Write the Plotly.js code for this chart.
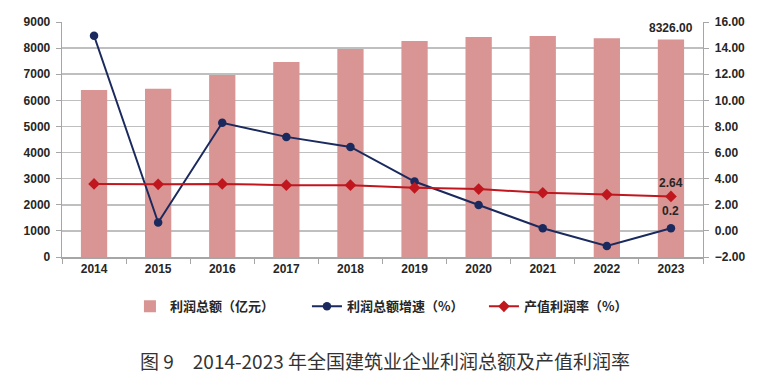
<!DOCTYPE html>
<html><head><meta charset="utf-8">
<script src="https://cdn.plot.ly/plotly-3.0.1.min.js"></script>
<style>body{margin:0;background:#fff}#c{width:775px;height:382px}</style>
</head><body><div id="c"></div>
<script>
const years = ['2014','2015','2016','2017','2018','2019','2020','2021','2022','2023'];
const profitTotal = [6398, 6448, 6973, 7471, 7969, 8276, 8429, 8467, 8379, 8326];
const profitGrowth = [14.95, 0.64, 8.28, 7.2, 6.43, 3.78, 1.98, 0.2, -1.16, 0.2];
const profitRate = [3.6, 3.57, 3.6, 3.5, 3.5, 3.3, 3.2, 2.92, 2.78, 2.64];
const seriesNames = ['利润总额（亿元）', '利润总额增速（%）', '产值利润率（%）'];
const chartTitle = '图 9　2014-2023 年全国建筑业企业利润总额及产值利润率';

const tickFont = {family: 'Liberation Sans, Arial, sans-serif', size: 12, color: '#262626', weight: 'bold'};
const last = years.length - 1;

const traces = [
  {type: 'bar', x: years, y: profitTotal, name: seriesNames[0], marker: {color: '#d99594'}, width: 0.41, yaxis: 'y'},
  {type: 'scatter', mode: 'lines+markers', x: years, y: profitGrowth, name: seriesNames[1], yaxis: 'y2',
   line: {color: '#1b2a5e', width: 2}, marker: {symbol: 'circle', size: 8.5, color: '#1b2a5e'}},
  {type: 'scatter', mode: 'lines+markers', x: years, y: profitRate, name: seriesNames[2], yaxis: 'y2',
   line: {color: '#c0171f', width: 2}, marker: {symbol: 'diamond', size: 9, color: '#c0171f'}}
];

const annFont = {family: 'Liberation Sans, Arial, sans-serif', size: 12, color: '#262626', weight: 'bold'};
const layout = {
  width: 775, height: 382,
  margin: {l: 62, r: 72, t: 22, b: 125},
  paper_bgcolor: '#fff', plot_bgcolor: '#fff',
  showlegend: true,
  xaxis: {type: 'category', range: [-0.5, years.length - 0.5], tickfont: tickFont, showline: true, linecolor: '#a6a6a6', linewidth: 1.5,
          ticks: 'outside', tickson: 'boundaries', ticklen: 5, tickcolor: '#a6a6a6', showgrid: false, tickangle: 0},
  yaxis: {range: [0, 9000], dtick: 1000, tickfont: tickFont, showgrid: true, gridcolor: '#bfbfbf', gridwidth: 1.5,
          ticks: 'outside', ticklen: 5, tickcolor: '#a6a6a6', showline: true, linecolor: '#a6a6a6', zeroline: false, ticksuffix: ' '},
  yaxis2: {range: [-2, 16], dtick: 2, tickformat: '.2f', overlaying: 'y', side: 'right', tickfont: tickFont,
           showgrid: false, ticks: 'outside', ticklen: 5, tickcolor: '#a6a6a6', showline: true, linecolor: '#a6a6a6', zeroline: false, tickprefix: ' '},
  legend: {orientation: 'h', x: 0.106, xanchor: 'left', y: -0.21, yanchor: 'middle', entrywidth: 132,
           font: {family: 'Noto Sans CJK SC, sans-serif', size: 13, color: '#262626', weight: 'bold'}},
  annotations: [
    {x: last, y: profitTotal[last], xref: 'x', yref: 'y', text: profitTotal[last].toFixed(2), showarrow: false, yshift: 12, font: annFont},
    {x: last, y: profitRate[last], xref: 'x', yref: 'y2', text: String(profitRate[last]), showarrow: false, yshift: 13, font: annFont},
    {x: last, y: profitGrowth[last], xref: 'x', yref: 'y2', text: String(profitGrowth[last]), showarrow: false, yshift: 17, font: annFont},
    {xref: 'paper', yref: 'paper', x: 0.504, y: -0.44, text: chartTitle, showarrow: false, yanchor: 'middle',
     font: {family: 'Noto Sans CJK SC, sans-serif', size: 19, color: '#333'}}
  ]
};
Plotly.newPlot('c', traces, layout, {displayModeBar: false, staticPlot: true});
</script></body></html>
